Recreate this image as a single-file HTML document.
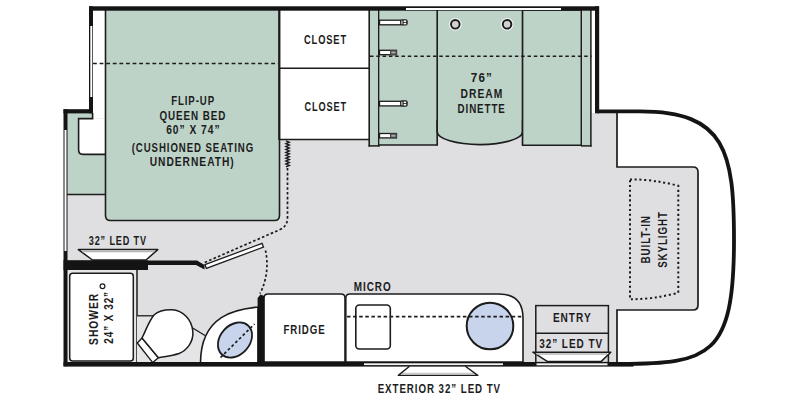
<!DOCTYPE html>
<html><head><meta charset="utf-8">
<style>
html,body{margin:0;padding:0;background:#fff;width:800px;height:400px;overflow:hidden;}
svg{display:block;}
text{font-family:"Liberation Sans",sans-serif;font-weight:bold;fill:#1c1c1c;font-size:13.6px;letter-spacing:1.3px;}
</style></head>
<body>
<svg width="800" height="400" viewBox="0 0 800 400">
<!-- floor -->
<path d="M89,10 H595 V113 H617 V362 H67 V113 H89 Z" fill="#dfdfe2"/>
<path d="M617,167 H693 Q698,167 698,172 V305 Q698,310 693,310 H617 Z" fill="#dfdfe2"/>
<!-- white column left of bed -->
<rect x="591" y="10" width="4" height="103" fill="#fff"/>
<!-- left green area -->
<rect x="67" y="113" width="38" height="81.5" fill="#bed3c8"/>
<line x1="67" y1="194.5" x2="105" y2="194.5" stroke="#1c1c1c" stroke-width="1.5"/>
<rect x="93" y="10" width="12" height="108.5" fill="#fff"/>
<path d="M79,118.5 H105 V154 H83 Q79,154 79,150 Z" fill="#fff"/>
<path d="M92.6,113 V118.6 H78.6 V150 Q78.6,154.4 83,154.4 H105" fill="none" stroke="#1c1c1c" stroke-width="1.6"/>
<!-- bed -->
<path d="M105.5,9 V215.5 Q105.5,220.5 110.5,220.5 H274.5 Q279.5,220.5 279.5,215.5 V9 Z" fill="#bed3c8" stroke="#1c1c1c" stroke-width="1.6"/>
<line x1="279.5" y1="9" x2="279.5" y2="140" stroke="#1c1c1c" stroke-width="2.6"/>
<line x1="93" y1="63.6" x2="278" y2="63.6" stroke="#1c1c1c" stroke-width="1.5" stroke-dasharray="3.8 2.8"/>
<!-- closets -->
<rect x="280.5" y="10" width="88.5" height="129.5" fill="#fff"/>
<line x1="369.2" y1="9" x2="369.2" y2="146.5" stroke="#1c1c1c" stroke-width="1.6"/>
<line x1="280" y1="68.3" x2="369" y2="68.3" stroke="#1c1c1c" stroke-width="1.5"/>
<line x1="280" y1="139.4" x2="369" y2="139.4" stroke="#1c1c1c" stroke-width="1.5"/>
<!-- dinette -->
<rect x="370" y="10" width="8" height="135.7" fill="#bed3c8"/>
<line x1="378.8" y1="9" x2="378.8" y2="146.5" stroke="#1c1c1c" stroke-width="1.6"/>
<line x1="368.5" y1="145.9" x2="379.5" y2="145.9" stroke="#1c1c1c" stroke-width="1.5"/>
<path d="M379.6,10 H437 V145 H379.6 Z" fill="#bed3c8"/>
<line x1="379" y1="145" x2="437.8" y2="145" stroke="#1c1c1c" stroke-width="1.5"/>
<path d="M437.2,9 V131.8 A42.7,12.8 0 0 0 522.6,131.8 V9 Z" fill="#bed3c8" stroke="#1c1c1c" stroke-width="1.6"/>
<path d="M437.2,120 V145.6 M522.6,120 V145.6" stroke="#1c1c1c" stroke-width="1.6"/>
<path d="M522.6,10 H581.3 V145.3 H522.6 Z" fill="#bed3c8" stroke="#1c1c1c" stroke-width="1.5"/>
<rect x="582.5" y="10" width="8" height="135.7" fill="#bed3c8"/>
<line x1="590.9" y1="9" x2="590.9" y2="146.6" stroke="#1c1c1c" stroke-width="1.5"/>
<line x1="581" y1="145.9" x2="591.6" y2="145.9" stroke="#1c1c1c" stroke-width="1.5"/>
<line x1="370" y1="56.3" x2="591.5" y2="56.3" stroke="#1c1c1c" stroke-width="1.5" stroke-dasharray="3.5 2.8"/>
<!-- cup holders -->
<circle cx="455.3" cy="24.3" r="6.4" fill="#eef3f0"/>
<circle cx="507.1" cy="24.3" r="6.4" fill="#eef3f0"/>
<circle cx="455.3" cy="24.3" r="4.3" fill="#d2d2d2" stroke="#1c1c1c" stroke-width="1.9"/>
<circle cx="507.1" cy="24.3" r="4.3" fill="#d2d2d2" stroke="#1c1c1c" stroke-width="1.9"/>
<!-- buckles -->
<g stroke="#1c1c1c" stroke-width="1.3" fill="#fff">
<rect x="379.5" y="20.2" width="21.5" height="4.6"/>
<rect x="379.5" y="101.3" width="21.5" height="4.6"/>
<rect x="379.5" y="50.3" width="17" height="4.4"/>
<rect x="379.5" y="133.5" width="17" height="4.4"/>
</g>
<g fill="#1c1c1c">
<rect x="400.3" y="19.2" width="7.4" height="6.4" rx="2"/>
<rect x="400.3" y="100.3" width="7.4" height="6.4" rx="2"/>
<rect x="390" y="50" width="7" height="5" fill="#444"/>
<rect x="390" y="133.2" width="7" height="5" fill="#444"/>
</g>
<g fill="#fff">
<rect x="401.3" y="20.6" width="1.2" height="3.6" fill="#e0e0e0"/>
<rect x="403.6" y="20.4" width="2.6" height="1.6"/>
<rect x="403.6" y="22.8" width="2.6" height="1.6"/>
<rect x="401.3" y="101.7" width="1.2" height="3.6" fill="#e0e0e0"/>
<rect x="403.6" y="101.5" width="2.6" height="1.6"/>
<rect x="403.6" y="103.9" width="2.6" height="1.6"/>
<rect x="391.3" y="51.5" width="4.2" height="2" fill="#aaa"/>
<rect x="391.3" y="134.7" width="4.2" height="2" fill="#aaa"/>
</g>
<!-- cab white region top & its lines -->
<path d="M617,113 V167 H693 Q698,167 698,172 V305 Q698,310 693,310 H617 V362" fill="none" stroke="#1c1c1c" stroke-width="1.7"/>
<!-- skylight dotted -->
<path d="M630,179.5 Q652,179 678.3,185.8 V292.8 Q652,299.5 630,299.2 Z" fill="none" stroke="#1c1c1c" stroke-width="2" stroke-dasharray="2.1 2.7"/>
<!-- bath floor region / shower -->
<rect x="67" y="270" width="69" height="92" fill="#e6e6e8"/>
<rect x="69.7" y="273.2" width="63.6" height="87.8" rx="3" fill="#fff" stroke="#1c1c1c" stroke-width="1.5"/>
<line x1="137" y1="270" x2="137" y2="362" stroke="#1c1c1c" stroke-width="1.5"/>
<circle cx="102.5" cy="286.3" r="2.4" fill="#fff" stroke="#1c1c1c" stroke-width="1.2"/>
<!-- toilet -->
<path d="M137,315.8 H153.5 L158,313 C170,307 186,312 191.5,327 L204.5,335 C201.5,343 200.5,352 200.5,362 H137 Z" fill="#e5e5e7"/>
<line x1="137" y1="315.8" x2="154" y2="315.8" stroke="#1c1c1c" stroke-width="1.3"/>
<line x1="191" y1="327" x2="205" y2="335.5" stroke="#1c1c1c" stroke-width="1.3"/>
<path d="M137.3,343 L142,338 L158.4,357.7 L152.7,362.6 Z" fill="#fff" stroke="#1c1c1c" stroke-width="1.4"/>
<path d="M142,338 C146,330 149,321 154,315 C159,310.5 165,309.6 172,309.8 C183,310.5 191.5,319 192.8,331 C193.8,342 187,350 179,353.5 C171,356.2 164,356.5 158.4,357.7 Z" fill="#fff" stroke="#1c1c1c" stroke-width="1.5"/>
<!-- vanity -->
<path d="M200.5,363 C200.5,310.5 243.6,309 258,307 V363 Z" fill="#fff" stroke="#1c1c1c" stroke-width="1.6"/>
<ellipse cx="235" cy="340" rx="19.5" ry="14.8" transform="rotate(-48 235 340)" fill="#c8d4eb" stroke="#1c1c1c" stroke-width="1.8"/>
<line x1="220.5" y1="357.5" x2="254.5" y2="324" stroke="#1c1c1c" stroke-width="1.7" stroke-dasharray="2.8 2.4"/>
<!-- fridge & counter -->
<path d="M264,362 V298 Q264,294 268,294 H341 Q345,294 345,298 V362 Z" fill="#fff" stroke="#1c1c1c" stroke-width="1.6"/>
<path d="M345.8,362 V298 Q345.8,294 350,294 H499 Q523,294 523,318 V362 Z" fill="#fff" stroke="#1c1c1c" stroke-width="1.6"/>
<rect x="355.8" y="305" width="34.5" height="44" rx="3.5" fill="#fff" stroke="#1c1c1c" stroke-width="1.6"/>
<circle cx="490" cy="326" r="23.3" fill="#c8d4eb" stroke="#1c1c1c" stroke-width="2"/>
<line x1="347" y1="316.6" x2="522" y2="316.6" stroke="#1c1c1c" stroke-width="1.6" stroke-dasharray="3.5 2.6"/>
<!-- entry -->
<rect x="535.8" y="305.6" width="72.6" height="57" fill="#dfdfe2" stroke="#1c1c1c" stroke-width="1.5"/>
<line x1="535.8" y1="333.3" x2="608.4" y2="333.3" stroke="#1c1c1c" stroke-width="1.5"/>
<!-- TVs -->
<path d="M532.8,352.2 H610.8 L601,361.6 H547.6 Z" fill="#fff" stroke="#1c1c1c" stroke-width="1.5" stroke-linejoin="round"/>
<line x1="536.5" y1="354" x2="607" y2="354" stroke="#b5b5b5" stroke-width="1.6"/>
<path d="M78.3,249.6 H157.8 L146,260 H92.5 Z" fill="#fff" stroke="#1c1c1c" stroke-width="1.5" stroke-linejoin="round"/>
<line x1="82" y1="251.4" x2="154" y2="251.4" stroke="#b5b5b5" stroke-width="1.6"/>
<path d="M409.5,366.3 L398.3,375.4 H477.8 L465.3,366.3 Z" fill="#fff"/>
<line x1="402" y1="373.6" x2="474" y2="373.6" stroke="#c8c8c8" stroke-width="1.5"/>
<path d="M409.5,366.3 L398.3,375.4 H477.8 L465.3,366.3" fill="none" stroke="#1c1c1c" stroke-width="1.4" stroke-linejoin="round"/>
<!-- walls -->
<g fill="#141414">
<rect x="89" y="6.3" width="510" height="4.4"/>
<rect x="89" y="6.3" width="4" height="107"/>
<rect x="63.5" y="109.2" width="29.5" height="4.2"/>
<rect x="63.5" y="109.2" width="4" height="257"/>
<rect x="595" y="6.3" width="4.2" height="107"/>
<rect x="63.5" y="362" width="570" height="4.6"/>
<rect x="63.5" y="260.2" width="84.5" height="9.8"/>
<path d="M148,260.5 H197 L204.5,265 V269.5 L196,265 H148 Z"/>
<path d="M257.6,362 V298 L260.5,294.5 L264.2,296 V362 Z"/>
</g>
<path d="M597,111.4 H640 C726,111.4 734,152 734,240 C734,356 710,364 620,364" fill="none" stroke="#141414" stroke-width="3.8"/>
<!-- windows -->
<g fill="#fff">
<rect x="406" y="8" width="155" height="2"/>
<rect x="90.3" y="26" width="2" height="71"/>
<rect x="64.5" y="130" width="2" height="121"/>
<rect x="364" y="363.3" width="139" height="1.8" fill="#f4f4f4"/>
<rect x="536.5" y="363.3" width="71" height="2" fill="#f4f4f4"/>
</g>
<!-- bath door -->
<g transform="rotate(-20.5 206 267.5)">
<rect x="206" y="264.5" width="61" height="4" fill="#fff" stroke="#1c1c1c" stroke-width="1.3"/>
</g>
<path d="M287.5,168 V218 Q287.5,226 280,229.6 L203.5,263" fill="none" stroke="#1c1c1c" stroke-width="1.7" stroke-dasharray="2.6 2.2"/>
<polyline points="285.9,140.8 289.3,142.2 285.9,143.7 289.3,145.1 285.9,146.6 289.3,148.0 285.9,149.5 289.3,150.9 285.9,152.4 289.3,153.8 285.9,155.3 289.3,156.7 285.9,158.2 289.3,159.6 285.9,161.1 289.3,162.5 285.9,164.0 289.3,165.4 285.9,166.9" fill="none" stroke="#1c1c1c" stroke-width="1.4"/>
<path d="M265.5,250.5 C268,262 268,278 260,293.5" fill="none" stroke="#1c1c1c" stroke-width="1.7" stroke-dasharray="2.6 2.2"/>
<!-- text -->
<text x="325.50" y="43.7" text-anchor="middle" textLength="43.0" lengthAdjust="spacingAndGlyphs">CLOSET</text>
<text x="325.65" y="110.6" text-anchor="middle" textLength="42.5" lengthAdjust="spacingAndGlyphs">CLOSET</text>
<text x="193.10" y="104.8" text-anchor="middle" textLength="43.9" lengthAdjust="spacingAndGlyphs">FLIP-UP</text>
<text x="192.93" y="119.6" text-anchor="middle" textLength="67.0" lengthAdjust="spacingAndGlyphs">QUEEN BED</text>
<text x="193.35" y="134.2" text-anchor="middle" textLength="54.4" lengthAdjust="spacingAndGlyphs">60” X 74”</text>
<text x="192.90" y="151.6" text-anchor="middle" textLength="122.3" lengthAdjust="spacingAndGlyphs">(CUSHIONED SEATING</text>
<text x="192.23" y="166.1" text-anchor="middle" textLength="85.0" lengthAdjust="spacingAndGlyphs">UNDERNEATH)</text>
<text x="481.90" y="82" text-anchor="middle" textLength="22.2" lengthAdjust="spacingAndGlyphs">76”</text>
<text x="481.90" y="98.2" text-anchor="middle" textLength="42.6" lengthAdjust="spacingAndGlyphs">DREAM</text>
<text x="481.65" y="113.2" text-anchor="middle" textLength="48.2" lengthAdjust="spacingAndGlyphs">DINETTE</text>
<text x="117.85" y="245" text-anchor="middle" textLength="58.3" lengthAdjust="spacingAndGlyphs">32” LED TV</text>
<text x="304.50" y="333.6" text-anchor="middle" textLength="42.2" lengthAdjust="spacingAndGlyphs">FRIDGE</text>
<text x="372.65" y="291.2" text-anchor="middle" textLength="37.9" lengthAdjust="spacingAndGlyphs">MICRO</text>
<text x="439.35" y="393" text-anchor="middle" textLength="123.3" lengthAdjust="spacingAndGlyphs">EXTERIOR 32” LED TV</text>
<text x="572.25" y="322.3" text-anchor="middle" textLength="38.7" lengthAdjust="spacingAndGlyphs">ENTRY</text>
<text x="571.15" y="348.2" text-anchor="middle" textLength="63.9" lengthAdjust="spacingAndGlyphs">32” LED TV</text>
<text transform="translate(98.4 318.92) rotate(-90)" text-anchor="middle" textLength="52.0" lengthAdjust="spacingAndGlyphs">SHOWER</text>
<text transform="translate(113.3 317.40) rotate(-90)" text-anchor="middle" textLength="52.9" lengthAdjust="spacingAndGlyphs">24” X 32”</text>
<text transform="translate(650.4 239.30) rotate(-90)" text-anchor="middle" textLength="48.4" lengthAdjust="spacingAndGlyphs">BUILT-IN</text>
<text transform="translate(666.5 239.50) rotate(-90)" text-anchor="middle" textLength="56.6" lengthAdjust="spacingAndGlyphs">SKYLIGHT</text>
</svg>
</body></html>
